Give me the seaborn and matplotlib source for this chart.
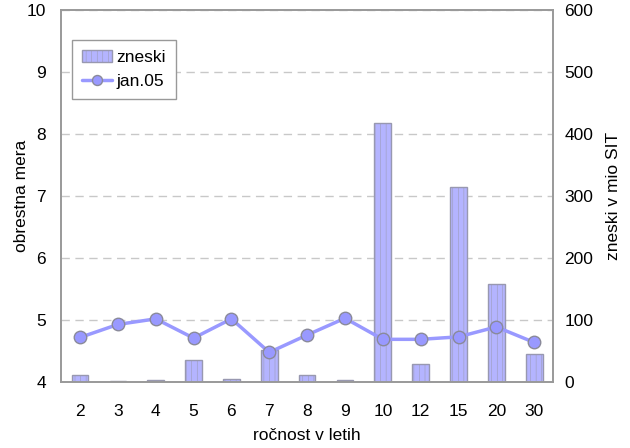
import matplotlib
matplotlib.use("Agg")
import matplotlib.pyplot as plt
import seaborn as sns
from matplotlib.ticker import FixedLocator

# data
rocnost = ["2", "3", "4", "5", "6", "7", "8", "9", "10", "12", "15", "20", "30"]
zneski = [11, 2, 3, 35, 5, 52, 11, 3, 417, 29, 315, 158, 45]
jan05 = [4.72, 4.93, 5.02, 4.71, 5.02, 4.48, 4.76, 5.03, 4.69, 4.69, 4.73, 4.89, 4.64]

sns.set_style("white")
plt.rcParams["font.family"] = ["Liberation Sans", "DejaVu Sans"]
plt.rcParams["text.color"] = "black"
plt.rcParams["axes.labelcolor"] = "black"
plt.rcParams["xtick.color"] = "black"
plt.rcParams["ytick.color"] = "black"
plt.rcParams["hatch.linewidth"] = 0.35

fs = 12.5
fig = plt.figure(figsize=(6.3, 4.48), dpi=100)
ax = fig.add_axes([0.097, 0.147, 0.781, 0.831])
ax2 = ax.twinx()

# bars on the right axis, kept behind the line
sns.barplot(x=rocnost, y=zneski, ax=ax2, color="#b4b4ff", width=0.44,
            edgecolor="#9898b0", linewidth=1, hatch="|||", saturation=1)
ax2.set_ylim(0, 600)
ax2.set_yticks(range(0, 601, 100))
ax2.yaxis.grid(True, color="#c8c8c8", linestyle=(0, (6, 4)), linewidth=1)
ax2.set_axisbelow(True)
ax2.set_ylabel("zneski v mio SIT", fontsize=fs, labelpad=9)

# line on the left axis
sns.pointplot(x=rocnost, y=jan05, ax=ax, color="#9999ff", markers="o",
              markersize=9, linewidth=2.5, markeredgecolor="#8a8a9a",
              markeredgewidth=1)
ax.set_ylim(4, 10)
ax.set_yticks(range(4, 11))
ax.set_zorder(ax2.get_zorder() + 1)
ax.patch.set_visible(False)
ax.set_xlim(-0.5, len(rocnost) - 0.5)
ax.set_ylabel("obrestna mera", fontsize=fs, labelpad=-2)
ax.set_xlabel("ročnost v letih", fontsize=fs, labelpad=6)

ax.xaxis.set_minor_locator(FixedLocator([i - 0.5 for i in range(len(rocnost) + 1)]))
ax.tick_params(axis="x", which="major", length=0, labelsize=fs, pad=16)
ax.tick_params(axis="x", which="minor", length=4.5, color="#999999", direction="out")
ax.tick_params(axis="y", length=0, labelsize=fs, pad=11)
ax2.tick_params(axis="y", length=0, labelsize=fs, pad=8)

for a in (ax, ax2):
    for s in a.spines.values():
        s.set_color("#999999")
        s.set_linewidth(1.2)

handles = [ax2.containers[0].patches[0], ax.lines[0]]
leg = ax.legend(handles, ["zneski", "jan.05"], loc="upper left",
                bbox_to_anchor=(0.022, 0.92), borderaxespad=0, fontsize=fs,
                fancybox=False, edgecolor="#999999", framealpha=1,
                handlelength=1.7, borderpad=0.6, labelspacing=0.5,
                handletextpad=0.25, markerscale=0.8)
leg.get_frame().set_linewidth(1)

fig.savefig("out.png", dpi=100)
